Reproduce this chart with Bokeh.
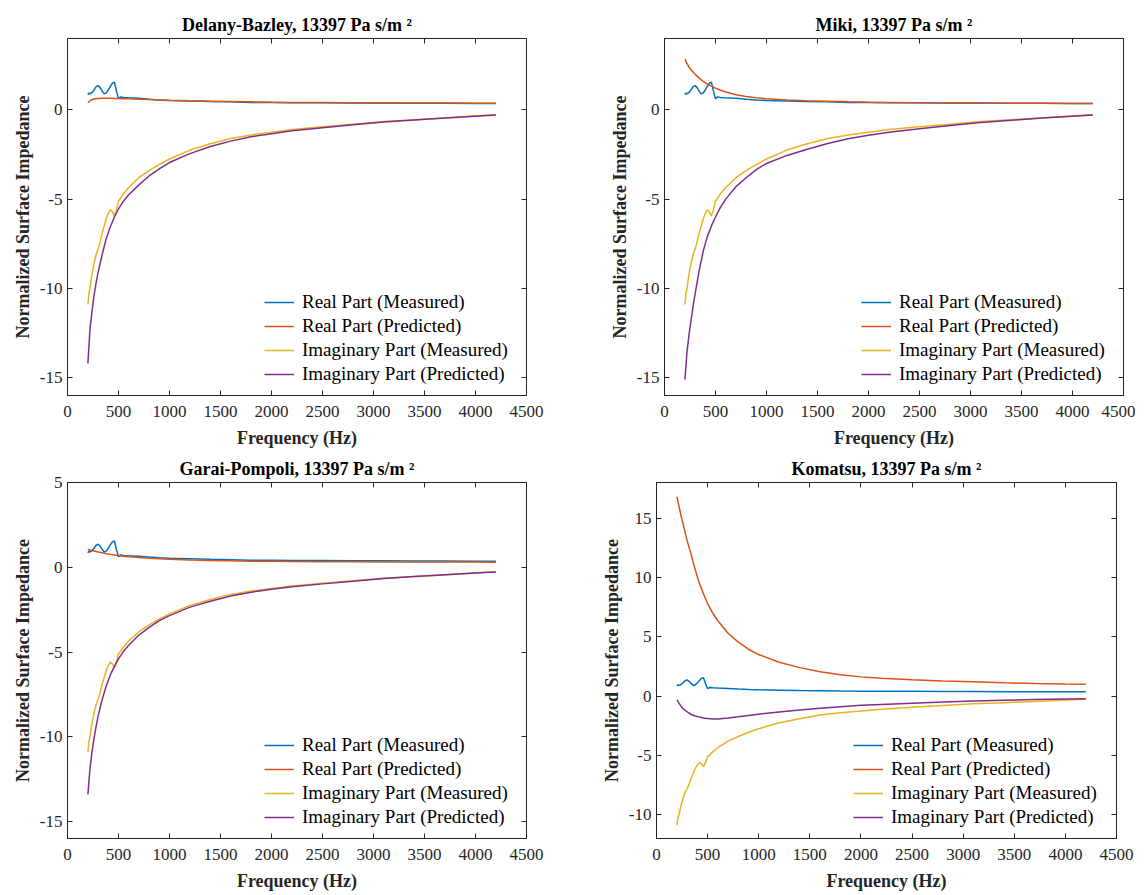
from bokeh.plotting import figure
from bokeh.models import Range1d, LinearAxis, FixedTicker, Legend, LegendItem
from bokeh.layouts import column, row
from bokeh.embed import file_html
from bokeh.resources import INLINE

# ---------------- data ----------------
FREQ_MEAS = [200, 210, 220, 240, 260, 280, 300, 320, 340, 360,
             380, 400, 420, 440, 460, 480, 500, 520, 550, 600,
             700, 800, 900, 1000, 1200, 1400, 1600, 1800, 2000, 2200,
             2500, 2800, 3100, 3400, 3700, 4000, 4200]
REAL_MEAS = [0.85, 0.95, 0.9, 0.98, 1.12, 1.3, 1.36, 1.25, 1.05, 0.9,
             0.95, 1.12, 1.32, 1.5, 1.55, 1.05, 0.62, 0.73, 0.7, 0.68,
             0.65, 0.6, 0.56, 0.53, 0.5, 0.47, 0.45, 0.42, 0.41, 0.4,
             0.4, 0.39, 0.38, 0.37, 0.37, 0.36, 0.36]
IMAG_MEAS = [-10.9, -10.3, -10.0, -9.2, -8.6, -8.1, -7.8, -7.4, -6.9, -6.5,
             -6.1, -5.8, -5.6, -5.7, -5.95, -5.6, -5.1, -4.95, -4.7, -4.35,
             -3.8, -3.4, -3.05, -2.75, -2.25, -1.9, -1.6, -1.4, -1.25, -1.1,
             -0.95, -0.8, -0.65, -0.55, -0.45, -0.33, -0.27]

FREQ_PRED = [200, 220, 240, 260, 280, 300, 340, 380, 420, 460,
             500, 550, 600, 700, 800, 900, 1000, 1200, 1400, 1600,
             1800, 2000, 2200, 2500, 2800, 3100, 3400, 3700, 4000, 4200]
DB_REAL = [0.4, 0.5, 0.57, 0.61, 0.63, 0.64, 0.65, 0.65, 0.65, 0.64,
           0.64, 0.63, 0.62, 0.6, 0.58, 0.56, 0.54, 0.51, 0.49, 0.47,
           0.45, 0.43, 0.42, 0.41, 0.4, 0.39, 0.385, 0.38, 0.375, 0.37]
DB_IMAG = [-14.2, -12.3, -11.3, -10.4, -9.7, -9.1, -8.1, -7.2, -6.55, -6.0,
           -5.55, -5.1, -4.75, -4.2, -3.7, -3.3, -2.95, -2.45, -2.05, -1.75,
           -1.5, -1.33, -1.17, -1.0, -0.83, -0.68, -0.56, -0.45, -0.35, -0.28]
MIKI_REAL = [2.85, 2.6, 2.4, 2.25, 2.12, 2.0, 1.78, 1.6, 1.45, 1.33,
             1.22, 1.1, 1.0, 0.85, 0.75, 0.68, 0.63, 0.56, 0.51, 0.48,
             0.45, 0.43, 0.42, 0.4, 0.39, 0.38, 0.375, 0.37, 0.365, 0.36]
MIKI_IMAG = [-15.1, -13.6, -12.6, -11.8, -11.0, -10.3, -9.0, -7.9, -7.1, -6.5,
             -6.0, -5.45, -5.0, -4.3, -3.8, -3.35, -3.0, -2.55, -2.2, -1.88,
             -1.62, -1.42, -1.25, -1.05, -0.87, -0.71, -0.58, -0.46, -0.36, -0.29]
GP_REAL = [1.05, 1.02, 0.99, 0.96, 0.93, 0.9, 0.85, 0.8, 0.76, 0.72,
           0.68, 0.65, 0.62, 0.57, 0.53, 0.5, 0.47, 0.43, 0.4, 0.38,
           0.36, 0.35, 0.34, 0.33, 0.32, 0.315, 0.31, 0.31, 0.305, 0.3]
GP_IMAG = [-13.4, -11.9, -10.9, -10.1, -9.4, -8.8, -7.8, -7.0, -6.35, -5.85,
           -5.4, -4.95, -4.6, -4.0, -3.55, -3.15, -2.85, -2.35, -2.0, -1.7,
           -1.47, -1.3, -1.15, -0.98, -0.82, -0.67, -0.55, -0.44, -0.34, -0.28]
KOM_REAL = [16.8, 16.0, 15.2, 14.5, 13.8, 13.1, 11.9, 10.6, 9.5, 8.6,
            7.8, 7.0, 6.35, 5.3, 4.55, 3.95, 3.5, 2.85, 2.4, 2.05,
            1.8, 1.62, 1.5, 1.38, 1.28, 1.2, 1.12, 1.06, 1.02, 1.0]
KOM_IMAG = [-0.3, -0.6, -0.85, -1.05, -1.2, -1.33, -1.55, -1.68, -1.77, -1.84,
            -1.88, -1.92, -1.92, -1.85, -1.75, -1.63, -1.52, -1.35, -1.18, -1.03,
            -0.9, -0.78, -0.7, -0.6, -0.5, -0.42, -0.35, -0.29, -0.24, -0.22]

TITLES = ["Delany-Bazley, 13397 Pa s/m \u00b2", "Miki, 13397 Pa s/m \u00b2",
          "Garai-Pompoli, 13397 Pa s/m \u00b2", "Komatsu, 13397 Pa s/m \u00b2"]
X_TICKS = [0, 500, 1000, 1500, 2000, 2500, 3000, 3500, 4000, 4500]
Y_TICKS_TOP = [-15, -10, -5, 0]
Y_TICKS_GP = [-15, -10, -5, 0, 5]
Y_TICKS_KOM = [-10, -5, 0, 5, 10, 15]
LEGEND_LABELS = ["Real Part (Measured)", "Real Part (Predicted)",
                 "Imaginary Part (Measured)", "Imaginary Part (Predicted)"]
X_LABEL = "Frequency (Hz)"
Y_LABEL = "Normalized Surface Impedance"

# ---------------- styling ----------------
COLORS = ["#0072BD", "#D95319", "#EDB120", "#7E2F8E"]
FONT = "Liberation Serif"
AX_COLOR = "#262626"


def style_axis(ax, ticks, show):
    ax.ticker = FixedTicker(ticks=ticks)
    ax.major_tick_in = 5
    ax.major_tick_out = 0
    ax.minor_tick_line_color = None
    ax.axis_line_color = AX_COLOR
    ax.major_tick_line_color = AX_COLOR
    ax.major_label_text_font = FONT
    ax.major_label_text_color = AX_COLOR
    if show:
        ax.major_label_text_font_size = "17px"
        ax.major_label_overrides = {t: str(t) for t in ticks}
    else:
        ax.major_label_text_font_size = "1px"
        ax.major_label_overrides = {t: "" for t in ticks}
        ax.major_label_standoff = 0


def make_panel(title, pred_real, pred_imag, yr, yticks, width, height,
               bl, br, bt, bb):
    p = figure(width=width, height=height,
               x_range=Range1d(0, 4500), y_range=Range1d(*yr),
               output_backend="svg", toolbar_location=None,
               min_border_left=bl, min_border_right=br,
               min_border_top=bt, min_border_bottom=bb)
    p.xgrid.visible = False
    p.ygrid.visible = False
    p.outline_line_color = AX_COLOR
    p.outline_line_width = 1
    p.outline_line_alpha = 1
    p.background_fill_color = "white"
    p.border_fill_color = "white"

    p.title.text = title
    p.title.align = "center"
    p.title.text_font = FONT
    p.title.text_font_style = "bold"
    p.title.text_font_size = "18px"
    p.title.text_color = "#000000"
    p.title.standoff = 7

    xa = p.xaxis[0]
    ya = p.yaxis[0]
    style_axis(xa, X_TICKS, True)
    style_axis(ya, yticks, True)
    xa.major_label_standoff = 10
    ya.major_label_standoff = 5
    xa.axis_label = X_LABEL
    ya.axis_label = Y_LABEL
    for a in (xa, ya):
        a.axis_label_text_font = FONT
        a.axis_label_text_font_style = "bold"
        a.axis_label_text_font_size = "18px"
        a.axis_label_text_color = AX_COLOR
    xa.axis_label_standoff = 8
    ya.axis_label_standoff = 4

    top = LinearAxis()
    style_axis(top, X_TICKS, False)
    p.add_layout(top, "above")
    rgt = LinearAxis()
    style_axis(rgt, yticks, False)
    p.add_layout(rgt, "right")

    series = [(FREQ_MEAS, REAL_MEAS), (FREQ_PRED, pred_real),
              (FREQ_MEAS, IMAG_MEAS), (FREQ_PRED, pred_imag)]
    rends = []
    for (xs, ys), c in zip(series, COLORS):
        rends.append(p.line(xs, ys, line_color=c, line_width=1.5))

    legend = Legend(items=[LegendItem(label=l, renderers=[r])
                           for l, r in zip(LEGEND_LABELS, rends)])
    legend.location = (197, 10)
    legend.padding = 0
    legend.margin = 0
    legend.spacing = 2
    legend.glyph_width = 30
    legend.glyph_height = 20
    legend.label_height = 20
    legend.label_standoff = 8
    legend.border_line_color = None
    legend.background_fill_alpha = 0
    legend.label_text_font = FONT
    legend.label_text_font_size = "19px"
    legend.label_text_color = "#000000"
    p.add_layout(legend, "center")
    return p


pA = make_panel(TITLES[0], DB_REAL, DB_IMAG, (-16, 4), Y_TICKS_TOP,
                546, 450, 67, 20, 38, 54)
pB = make_panel(TITLES[1], MIKI_REAL, MIKI_IMAG, (-16, 4), Y_TICKS_TOP,
                589, 450, 118, 12, 38, 54)
pC = make_panel(TITLES[2], GP_REAL, GP_IMAG, (-16, 5), Y_TICKS_GP,
                546, 444, 67, 20, 32, 56)
pD = make_panel(TITLES[3], KOM_REAL, KOM_IMAG, (-12, 18), Y_TICKS_KOM,
                590, 444, 110, 20, 32, 56)

layout = column(row(pA, pB), row(pC, pD))
open("out.html", "w").write(file_html(layout, INLINE))
